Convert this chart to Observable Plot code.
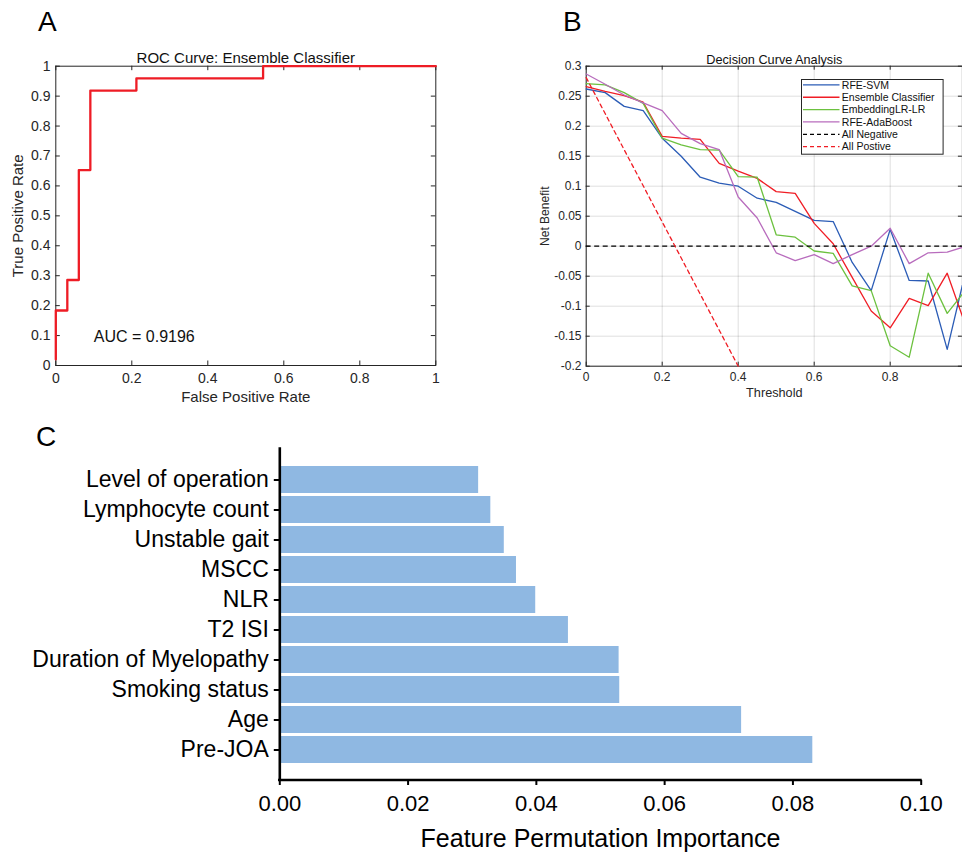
<!DOCTYPE html>
<html>
<head>
<meta charset="utf-8">
<script src="https://cdn.jsdelivr.net/npm/d3@7"></script>
<script src="https://cdn.jsdelivr.net/npm/@observablehq/plot@0.6"></script>
<style>
html, body { margin: 0; padding: 0; background: #fff; overflow: hidden; }
#root { position: relative; width: 962px; height: 854px; overflow: hidden; background: #fff;
        font-family: "Liberation Sans", Arial, Helvetica, sans-serif; }
.panel { position: absolute; }
.panel svg { max-width: none !important; display: block; }
.letter { position: absolute; font-size: 28px; line-height: 28px; color: #000; }
</style>
</head>
<body>
<div id="root"></div>
<script>
// ---------------- DATA ----------------
// Panel A: ROC curve (step points)
const rocFpr = [0, 0, 0.0303, 0.0303, 0.0606, 0.0606, 0.0909, 0.0909, 0.2121, 0.2121, 0.5455, 0.5455, 1];
const rocTpr = [0.0204, 0.1837, 0.1837, 0.2857, 0.2857, 0.6531, 0.6531, 0.9184, 0.9184, 0.9592, 0.9592, 1, 1];
const rocTicksX = [0, 0.2, 0.4, 0.6, 0.8, 1];
const rocTicksY = [0, 0.1, 0.2, 0.3, 0.4, 0.5, 0.6, 0.7, 0.8, 0.9, 1];
const rocTitle = "ROC Curve: Ensemble Classifier";
const rocXLabel = "False Positive Rate";
const rocYLabel = "True Positive Rate";
const aucLabel = "AUC = 0.9196";

// Panel B: decision curve analysis
const dcaThresholds = [0, 0.05, 0.1, 0.15, 0.2, 0.25, 0.3, 0.35, 0.4, 0.45, 0.5, 0.55, 0.6, 0.65, 0.7, 0.75, 0.8, 0.85, 0.9, 0.95, 0.99];
const nbRfeSvm      = [0.262, 0.256, 0.233, 0.226, 0.180, 0.150, 0.115, 0.105, 0.100, 0.080, 0.073, 0.058, 0.043, 0.041, -0.027, -0.074, 0.028, -0.057, -0.058, -0.172, -0.065];
const nbEnsemble    = [0.266, 0.258, 0.251, 0.240, 0.183, 0.180, 0.178, 0.138, 0.125, 0.113, 0.091, 0.088, 0.038, 0.004, -0.052, -0.108, -0.136, -0.087, -0.099, -0.045, -0.117];
const nbEmbeddingLR = [0.271, 0.269, 0.256, 0.238, 0.180, 0.169, 0.161, 0.160, 0.116, 0.115, 0.019, 0.015, -0.008, -0.012, -0.066, -0.074, -0.166, -0.185, -0.045, -0.112, -0.080];
const nbAdaBoost    = [0.287, 0.270, 0.252, 0.239, 0.226, 0.188, 0.171, 0.161, 0.082, 0.047, -0.011, -0.024, -0.014, -0.029, -0.014, 0.000, 0.030, -0.029, -0.011, -0.010, -0.002];
const allPosThresholds = [0, 0.4];
const allPosValues = [0.281, -0.2];
const allNegValue = [0];
const seriesNames = ["RFE-SVM", "Ensemble Classifier", "EmbeddingLR-LR", "RFE-AdaBoost"];
const seriesColors = ["#2b5cb6", "#f01d25", "#6cc13f", "#b86cbd"];
const refNames = ["All Negative", "All Postive"];
const refColors = ["#000000", "#f01d25"];
const dcaTicksX = [0, 0.2, 0.4, 0.6, 0.8];
const dcaTicksY = [-0.2, -0.15, -0.1, -0.05, 0, 0.05, 0.1, 0.15, 0.2, 0.25, 0.3];
const dcaTitle = "Decision Curve Analysis";
const dcaXLabel = "Threshold";
const dcaYLabel = "Net Benefit";

// Panel C: feature permutation importance
const features = ["Level of operation", "Lymphocyte count", "Unstable gait", "MSCC", "NLR", "T2 ISI",
                  "Duration of Myelopathy", "Smoking status", "Age", "Pre-JOA"];
const importance = [0.0310, 0.0329, 0.0350, 0.0369, 0.0399, 0.0450, 0.0529, 0.0530, 0.0720, 0.0831];
const impTicks = [0, 0.02, 0.04, 0.06, 0.08, 0.10];
const impXLabel = "Feature Permutation Importance";

const panelLetters = ["A", "B", "C"];

// ---------------- HELPERS ----------------
const FONT = '"Liberation Sans", Arial, Helvetica, sans-serif';
const mfmt = d => String(+d.toFixed(2));
const root = document.getElementById("root");

function place(node, left, top, w, h) {
  const div = document.createElement("div");
  div.className = "panel";
  div.style.left = left + "px";
  div.style.top = top + "px";
  div.style.width = w + "px";
  div.style.height = h + "px";
  div.appendChild(node);
  root.appendChild(div);
  return div;
}

// MATLAB-style box axes: labels outside, short ticks pointing inward on all four sides.
// xd, yd: domains; lx, ly: tick length expressed in data units of x and y.
function boxAxes(xt, yt, xd, yd, lx, ly, padX, padY, fs) {
  const tick = {stroke: "#262626", strokeWidth: 1};
  return [
    Plot.axisX(xt, {anchor: "bottom", tickSize: 0, tickPadding: padX, tickFormat: mfmt, label: null, fontSize: fs}),
    Plot.axisY(yt, {anchor: "left", tickSize: 0, tickPadding: padY, tickFormat: mfmt, label: null, fontSize: fs}),
    Plot.ruleX(xt, {x: d => d, y1: yd[0], y2: yd[0] + ly, ...tick}),
    Plot.ruleX(xt, {x: d => d, y1: yd[1], y2: yd[1] - ly, ...tick}),
    Plot.ruleY(yt, {y: d => d, x1: xd[0], x2: xd[0] + lx, ...tick}),
    Plot.ruleY(yt, {y: d => d, x1: xd[1], x2: xd[1] - lx, ...tick})
  ];
}

// ---------------- PANEL A ----------------
const rocData = rocFpr.map((x, i) => ({fpr: x, tpr: rocTpr[i]}));
const chartA = Plot.plot({
  width: 480, height: 415,
  marginLeft: 55.3, marginRight: 44.7, marginTop: 65.7, marginBottom: 50,
  style: {fontFamily: FONT, fontSize: "14px", color: "#262626", background: "transparent"},
  x: {domain: [0, 1]},
  y: {domain: [0, 1]},
  marks: [
    Plot.frame({stroke: "#262626", strokeWidth: 1}),
    ...boxAxes(rocTicksX, rocTicksY, [0, 1], [0, 1], 4.5 / 380, 4.5 / 299.3, 8, 5.3, 14),
    Plot.line(rocData, {x: "fpr", y: "tpr", stroke: "#ee1c25", strokeWidth: 2.3}),
    Plot.text([aucLabel], {x: () => 0.1, y: () => 0.097, text: d => d, textAnchor: "start", fontSize: 16, fill: "#111"}),
    Plot.text([rocTitle], {frameAnchor: "top", dy: -3, lineAnchor: "bottom", text: d => d, fontSize: 15, fill: "#111"}),
    Plot.text([rocXLabel], {frameAnchor: "bottom", dy: 36, lineAnchor: "bottom", text: d => d, fontSize: 15, fill: "#262626"}),
    Plot.text([rocYLabel], {frameAnchor: "left", dx: -43, rotate: -90, textAnchor: "middle", lineAnchor: "top", text: d => d, fontSize: 15, fill: "#262626"})
  ]
});
place(chartA, 0, 0, 480, 415);

// ---------------- PANEL B ----------------
const seriesValues = [nbRfeSvm, nbEnsemble, nbEmbeddingLR, nbAdaBoost];
const dcaLong = [];
seriesNames.forEach((name, s) => {
  dcaThresholds.forEach((t, i) => dcaLong.push({series: name, t, v: seriesValues[s][i]}));
});
const allPos = allPosThresholds.map((t, i) => ({t, v: allPosValues[i]}));

const chartB = Plot.plot({
  width: 432, height: 410,
  marginLeft: 55.7, marginRight: 0.1, marginTop: 65.7, marginBottom: 44.3,
  style: {fontFamily: FONT, fontSize: "12px", color: "#262626", background: "transparent"},
  x: {domain: [0, 0.99]},
  y: {domain: [-0.2, 0.3]},
  color: {domain: seriesNames, range: seriesColors},
  marks: [
    Plot.gridX(dcaTicksX, {stroke: "#000", strokeOpacity: 0.13}),
    Plot.gridY(dcaTicksY, {stroke: "#000", strokeOpacity: 0.13}),
    Plot.frame({stroke: "#262626", strokeWidth: 1}),
    ...boxAxes(dcaTicksX, dcaTicksY, [0, 0.99], [-0.2, 0.3], 4 * 0.99 / 376.2, 4 * 0.5 / 300, 6.5, 4.7, 12),
    Plot.line(dcaLong, {x: "t", y: "v", z: "series", stroke: "series", strokeWidth: 1.3}),
    Plot.ruleY(allNegValue, {stroke: refColors[0], strokeWidth: 1.2, strokeDasharray: "5,3.5"}),
    Plot.line(allPos, {x: "t", y: "v", stroke: refColors[1], strokeWidth: 1.3, strokeDasharray: "4,3.5"}),
    Plot.text([dcaTitle], {frameAnchor: "top", dy: -2, lineAnchor: "bottom", text: d => d, fontSize: 12.7, fill: "#111"}),
    Plot.text([dcaXLabel], {frameAnchor: "bottom", dy: 31, lineAnchor: "bottom", text: d => d, fontSize: 12.7, fill: "#262626"}),
    Plot.text([dcaYLabel], {frameAnchor: "left", dx: -46, rotate: -90, textAnchor: "middle", lineAnchor: "top", text: d => d, fontSize: 12, fill: "#262626"})
  ]
});
place(chartB, 530, 0, 432, 410);

// Legend for panel B
(function () {
  const entries = seriesNames.map((n, i) => ({name: n, color: seriesColors[i], dash: null}))
    .concat(refNames.map((n, i) => ({name: n, color: refColors[i], dash: "4,3"})));
  const W = 141.6, H = 74.7, rowH = 12.35, y0 = 5.9;
  const svg = d3.create("svg").attr("width", W + 2).attr("height", H + 2)
    .style("font-family", FONT).style("font-size", "10.5px").style("overflow", "visible");
  svg.append("rect").attr("x", 0.5).attr("y", 0.5).attr("width", W).attr("height", H)
    .attr("fill", "#fff").attr("stroke", "#262626").attr("stroke-width", 1);
  const g = svg.selectAll("g").data(entries).join("g")
    .attr("transform", (d, i) => `translate(0,${y0 + i * rowH})`);
  g.append("line").attr("x1", 2).attr("x2", 38.5).attr("y1", 0).attr("y2", 0)
    .attr("stroke", d => d.color).attr("stroke-width", 1.3)
    .attr("stroke-dasharray", d => d.dash);
  g.append("text").attr("x", 40.8).attr("y", 0).attr("dy", "0.36em").attr("fill", "#111").text(d => d.name);
  place(svg.node(), 801.2, 78.8, W + 2, H + 2);
})();

// ---------------- PANEL C ----------------
const impData = features.map((f, i) => ({feature: f, importance: importance[i]}));
const chartC = Plot.plot({
  width: 962, height: 434,
  marginLeft: 279.3, marginRight: 41.3, marginTop: 27.3, marginBottom: 74,
  style: {fontFamily: FONT, fontSize: "22px", color: "#000", background: "transparent"},
  x: {domain: [0, 0.1]},
  y: {domain: features, range: [41.6, 347.2], paddingInner: 0.094, paddingOuter: 0.047},
  marks: [
    Plot.barX(impData, {x: "importance", y: "feature", fill: "#8fb8e2"}),
    Plot.axisX(impTicks, {anchor: "bottom", tickSize: 5, tickPadding: 10, tickFormat: d3.format(".2f"), label: null, strokeWidth: 2, fontSize: 22}),
    Plot.axisY({anchor: "left", tickSize: 5.5, tickPadding: 5.5, label: null, strokeWidth: 2, fontSize: 23}),
    Plot.ruleX([0], {stroke: "#000", strokeWidth: 2.6}),
    Plot.text([impXLabel], {frameAnchor: "bottom", dy: 66, lineAnchor: "bottom", text: d => d, fontSize: 25, fill: "#000"})
  ]
});
// bottom axis line (ggplot-style), positioned through the plot's own x scale
(function () {
  const xs = chartC.scale("x");
  const yb = 434 - 74;
  d3.select(chartC).append("line")
    .attr("x1", xs.apply(0) - 1.3).attr("x2", xs.apply(0.1) + 1)
    .attr("y1", yb).attr("y2", yb)
    .attr("stroke", "#000").attr("stroke-width", 2.6);
})();
place(chartC, 0, 420, 962, 434);

// ---------------- PANEL LETTERS ----------------
const letterPos = [[38, 8.3], [563, 8.3], [36, 423.3]];
panelLetters.forEach((L, i) => {
  const d = document.createElement("div");
  d.className = "letter";
  d.style.left = letterPos[i][0] + "px";
  d.style.top = letterPos[i][1] + "px";
  d.textContent = L;
  root.appendChild(d);
});
</script>
</body>
</html>
